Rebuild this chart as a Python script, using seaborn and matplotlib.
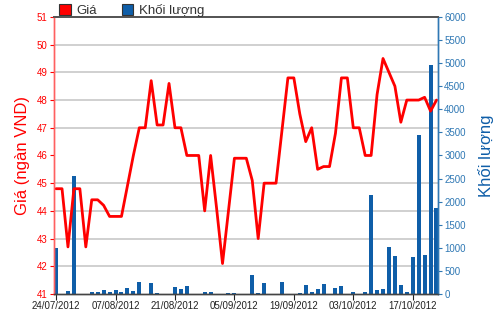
import numpy as np
import pandas as pd
import matplotlib
matplotlib.use("Agg")
import matplotlib.pyplot as plt
import seaborn as sns
from matplotlib.ticker import MultipleLocator
from matplotlib.patches import Patch

# ---- data (trading days 24/07/2012 .. 23/10/2012) ----
price = [44.8, 44.8, 42.7, 44.8, 44.8, 42.7, 44.4, 44.4, 44.2, 43.8,
         43.8, 43.8, 44.9, 46.0, 47.0, 47.0, 48.7, 47.1, 47.1, 48.6,
         47.0, 47.0, 46.0, 46.0, 46.0, 44.0, 46.0, 44.1, 42.1, 44.0,
         45.9, 45.9, 45.9, 45.1, 43.0, 45.0, 45.0, 45.0, 46.9, 48.8,
         48.8, 47.5, 46.5, 47.0, 45.5, 45.6, 45.6, 46.8, 48.8, 48.8,
         47.0, 47.0, 46.0, 46.0, 48.2, 49.5, 49.0, 48.5, 47.2, 48.0,
         48.0, 48.0, 48.1, 47.6, 48.0]
volume = [990, 0, 60, 2550, 0, 0, 50, 50, 80, 50,
          80, 50, 137, 55, 255, 0, 230, 25, 0, 0,
          150, 100, 170, 0, 0, 50, 35, 0, 0, 30,
          30, 0, 0, 415, 30, 230, 0, 0, 252, 0,
          0, 30, 194, 50, 108, 216, 0, 130, 173, 0,
          50, 0, 50, 2137, 86, 108, 1007, 820, 194, 50,
          806, 3447, 842, 4960, 1866]
tick_pos = [0, 10, 20, 30, 40, 50, 60]
tick_labels = ["24/07/2012", "07/08/2012", "21/08/2012", "05/09/2012",
               "19/09/2012", "03/10/2012", "17/10/2012"]

idx = list(range(len(price)))
df = pd.DataFrame({"i": idx, "price": price, "volume": volume})

RED = "#ff0000"
BLUE = "#0f5ea8"
AXBLUE = "#2f78b4"

sns.set_style("white")
plt.rcParams["font.family"] = ["Liberation Sans", "DejaVu Sans"]

fig = plt.figure(figsize=(5.0, 3.12), dpi=100)
axv = fig.add_axes([0.108, 0.0577, 0.768, 0.888])
axp = axv.twinx()

# volume bars (right axis)
sns.barplot(data=df, x="i", y="volume", native_scale=True, color=BLUE,
            saturation=1, width=0.68, ax=axv, linewidth=0)
axv.set_ylim(0, 6000)
axv.set_xlim(-0.35, 64.25)
axv.yaxis.set_major_locator(MultipleLocator(500))
axv.yaxis.set_minor_locator(MultipleLocator(600))
axv.grid(which="minor", axis="y", color="#c8c8c8", linewidth=1.2)
axv.grid(which="major", axis="y", visible=False)
axv.tick_params(axis="y", which="minor", length=0)
axv.yaxis.tick_right()
axv.yaxis.set_label_position("right")
axv.tick_params(axis="y", which="major", colors=AXBLUE, labelsize=7,
                length=3, width=0.8, pad=1.5, direction="out")
axv.set_ylabel("Khối lượng", color=BLUE, fontsize=12, labelpad=9)
axv.set_xlabel("")
axv.set_xticks(tick_pos)
axv.set_xticklabels(tick_labels)
axv.tick_params(axis="x", colors="#222222", labelsize=7, length=4,
                width=0.8, pad=1, bottom=True)

# price line (left axis)
sns.lineplot(data=df, x="i", y="price", color=RED, linewidth=2.0, ax=axp)
axp.set_ylim(41, 51)
axp.set_xlim(-0.35, 64.25)
axp.yaxis.tick_left()
axp.yaxis.set_label_position("left")
axp.yaxis.set_major_locator(MultipleLocator(1))
axp.tick_params(axis="y", colors=RED, labelsize=7, length=3, width=0.8,
                pad=1.5, direction="out", left=True, right=False)
axp.set_ylabel("Giá (ngàn VND)", color=RED, fontsize=12, labelpad=5)
axp.set_xlabel("")
axp.grid(False)

for a in (axv, axp):
    a.spines["left"].set_color("#ff6060")
    a.spines["right"].set_color(AXBLUE)
    a.spines["top"].set_color("#555555")
    a.spines["bottom"].set_color("#444444")
    for s in a.spines.values():
        s.set_linewidth(1.0)
    a.spines["top"].set_linewidth(1.3)

axv.set_zorder(1)
axp.set_zorder(2)
axp.patch.set_visible(False)
axv.patch.set_facecolor("white")

handles = [Patch(facecolor=RED, edgecolor="#333333", linewidth=0.8),
           Patch(facecolor=BLUE, edgecolor="#333333", linewidth=0.8)]
fig.legend(handles, ["Giá", "Khối lượng"], loc="upper left",
           bbox_to_anchor=(0.094, 1.025), ncol=2, frameon=False,
           fontsize=9.5, handlelength=0.9, handleheight=0.9,
           handletextpad=0.4, columnspacing=1.9, labelcolor="#333333")

fig.savefig("out.png", dpi=100, facecolor="white")
